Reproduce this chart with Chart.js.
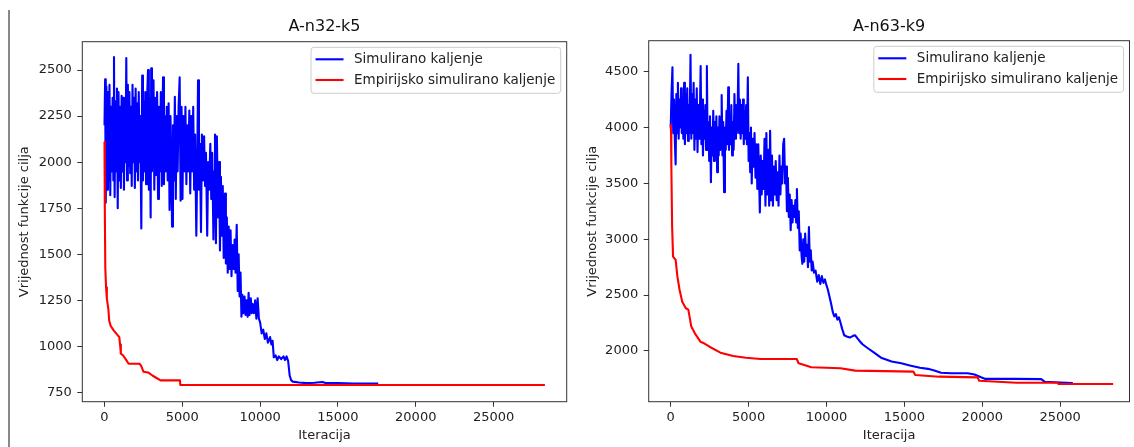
<!DOCTYPE html>
<html>
<head>
<meta charset="utf-8">
<script src="https://cdn.jsdelivr.net/npm/chart.js@4.4.1/dist/chart.umd.min.js"></script>
<style>
  html, body { margin: 0; padding: 0; background: #fff; }
  #page { position: relative; width: 1134px; height: 447px; overflow: hidden; }
  #n32 { position: absolute; left: 0; top: 0; }
  #n63 { position: absolute; left: 568px; top: 0; }
  #edge { position: absolute; left: 8px; top: 10px; width: 1.5px; height: 437px; background: #888; }
</style>
</head>
<body>
<div id="page">
  <canvas id="n32" width="568" height="447"></canvas>
  <canvas id="n63" width="566" height="447"></canvas>
  <div id="edge"></div>
</div>
<script>
const seriesLabels = ["Simulirano kaljenje", "Empirijsko simulirano kaljenje"];
const xTickValues = [0, 5000, 10000, 15000, 20000, 25000];
const n32YTicks = [750, 1000, 1250, 1500, 1750, 2000, 2250, 2500];
const n63YTicks = [2000, 2500, 3000, 3500, 4000, 4500];

// A-n32-k5, simulirano kaljenje
const n32SaIter = [
  0, 40, 80, 120, 170, 220, 270, 320, 370, 420,
  470, 520, 570, 610, 650, 700, 750, 800, 850, 900,
  950, 1000, 1050, 1100, 1150, 1200, 1250, 1300, 1350, 1400,
  1450, 1500, 1550, 1600, 1650, 1700, 1750, 1800, 1850, 1900,
  1950, 2000, 2050, 2100, 2150, 2200, 2250, 2300, 2365, 2420,
  2470, 2520, 2570, 2620, 2670, 2720, 2795, 2850, 2900, 2965,
  3000, 3050, 3100, 3150, 3200, 3260, 3320, 3380, 3440, 3500,
  3560, 3620, 3680, 3760, 3820, 3880, 3940, 4000, 4060, 4120,
  4180, 4240, 4300, 4340, 4400, 4460, 4520, 4580, 4640, 4700,
  4760, 4830, 4890, 4950, 5010, 5070, 5130, 5200, 5260, 5320,
  5380, 5450, 5510, 5570, 5630, 5700, 5760, 5820, 5900, 5960,
  6010, 6070, 6130, 6200, 6260, 6320, 6400, 6460, 6520, 6600,
  6660, 6720, 6800, 6860, 6920, 7000, 7060, 7100, 7160, 7220,
  7300, 7360, 7420, 7480, 7540, 7600, 7660, 7745, 7800, 7860,
  7920, 7980, 8040, 8100, 8160, 8220, 8300, 8360, 8420, 8495,
  8560, 8620, 8680, 8740, 8800, 8860, 8920, 9000, 9060, 9120,
  9200, 9260, 9320, 9400, 9460, 9520, 9600, 9680, 9760, 9840,
  9920, 10000, 10100, 10200, 10300, 10400, 10500, 10640, 10720, 10800,
  10880, 11000, 11100, 11200, 11350, 11500, 11600, 11700, 11800, 11900,
  12000, 12100, 12500, 13000, 13500, 14000, 14200, 15000, 16000, 17590
];
const n32SaCost = [
  2200, 2450, 1780, 2410, 1850, 2380, 1900, 2420, 1820, 2300,
  1950, 2350, 1900, 2570, 1810, 2330, 1950, 2400, 1750, 2380,
  1900, 2300, 1860, 2360, 1950, 2350, 1850, 2300, 2000, 2565,
  1900, 2420, 1980, 2380, 1940, 2300, 1870, 2420, 2000, 2350,
  1860, 2400, 1950, 2320, 1900, 2380, 2000, 2250, 1640, 2470,
  1900, 2330, 1950, 2380, 1880, 2300, 2500, 1850, 2350, 1700,
  2510, 1950, 2300, 2445, 1850, 2350, 1930, 2380, 1800, 2300,
  1950, 2380, 1870, 2460, 1880, 2250, 1950, 2300, 1900, 2320,
  1740, 2250, 1950, 1650, 2200, 1900, 2355, 1800, 2250, 1950,
  2300, 2460, 1790, 2300, 1800, 2250, 1950, 2300, 1880, 2200,
  1950, 2280, 1830, 2250, 1950, 2300, 1850, 2150, 1600, 2000,
  2445, 1850, 2100, 1620, 2150, 1900, 2140, 1870, 2050, 1600,
  2000, 1850, 2100, 1800, 2050, 1580, 1950, 2150, 1560, 2140,
  1700, 2000, 1520, 1920, 1600, 1870, 1480, 1830, 1450, 1700,
  1400, 1650, 1420, 1630, 1380, 1550, 1420, 1580, 1400, 1660,
  1300, 1500, 1270, 1400, 1160, 1280, 1180, 1270, 1170, 1250,
  1160, 1290, 1170, 1260, 1180, 1230, 1180, 1250, 1150, 1260,
  1150, 1130, 1070, 1090, 1040, 1070, 1020, 1050, 1010, 1030,
  940, 950, 925, 945, 930, 945, 925, 945, 920, 840,
  815, 808, 803, 800, 802, 806, 800, 800, 798, 797
];

// A-n32-k5, empirijsko simulirano kaljenje
const n32EsaIter = [0, 20, 50, 100, 150, 250, 300, 400, 600, 800, 950, 1000, 1050,
  1200, 1400, 1550, 2250, 2350, 2500, 2800, 3100, 3400, 3600, 4850, 4870, 28300];
const n32EsaCost = [2110, 1750, 1430, 1320, 1260, 1200, 1140, 1110, 1085, 1065, 1050, 1010, 960,
  950, 925, 905, 905, 895, 862, 858, 840, 825, 815, 815, 790, 790];

// A-n63-k9, simulirano kaljenje
const n63SaIter = [
  0, 50, 110, 160, 210, 260, 315, 360, 410, 460,
  510, 560, 610, 660, 710, 760, 810, 860, 910, 960,
  1010, 1060, 1110, 1160, 1210, 1270, 1320, 1370, 1420, 1470,
  1520, 1570, 1620, 1670, 1720, 1770, 1820, 1870, 1920, 1970,
  2020, 2070, 2120, 2170, 2220, 2270, 2320, 2370, 2420, 2470,
  2520, 2580, 2630, 2680, 2730, 2780, 2830, 2880, 2930, 2980,
  3030, 3080, 3130, 3180, 3230, 3270, 3320, 3370, 3425, 3480,
  3530, 3580, 3630, 3690, 3740, 3790, 3840, 3890, 3940, 3990,
  4040, 4090, 4140, 4190, 4240, 4290, 4340, 4390, 4440, 4490,
  4540, 4590, 4640, 4690, 4740, 4790, 4840, 4890, 4950, 5000,
  5050, 5100, 5150, 5200, 5260, 5320, 5380, 5440, 5500, 5560,
  5620, 5680, 5720, 5780, 5840, 5900, 5960, 6020, 6080, 6140,
  6200, 6260, 6320, 6380, 6440, 6500, 6560, 6620, 6680, 6740,
  6800, 6860, 6920, 6980, 7040, 7100, 7160, 7220, 7280, 7340,
  7400, 7460, 7520, 7580, 7640, 7700, 7760, 7820, 7880, 7940,
  8000, 8050, 8100, 8160, 8220, 8280, 8340, 8400, 8450, 8510,
  8570, 8630, 8690, 8750, 8810, 8870, 8930, 8990, 9050, 9110,
  9200, 9300, 9400, 9500, 9600, 9700, 9800, 9900, 9970, 10085,
  10200, 10300, 10400, 10500, 10600, 10700, 10800, 10905, 11000, 11140,
  11300, 11500, 11700, 11840, 12000, 12150, 12310, 12500, 12700, 13010,
  13500, 14180, 14800, 15350, 16000, 16510, 16920, 17350, 18000, 19060,
  19500, 19920, 20200, 22000, 23780, 24000, 25000, 25810
];
const n63SaCost = [
  4000, 4300, 4540, 3950, 4250, 3900, 3670, 4300, 3950, 4400,
  3900, 4250, 4000, 4350, 3950, 4200, 3900, 4400, 3850, 4300,
  3950, 4350, 3880, 4200, 3950, 4650, 3900, 4300, 3950, 4400,
  3800, 4250, 3900, 4350, 3780, 4200, 3900, 4100, 4550, 3850,
  4250, 3750, 4150, 3900, 4200, 3800, 4550, 3800, 4050, 3700,
  4100, 3510, 4000, 3750, 4150, 3700, 4050, 3800, 4100, 3600,
  4000, 3750, 4100, 3800, 3950, 4290, 3750, 4050, 3420, 4000,
  3800, 4150, 3850, 4360, 3800, 4100, 3850, 4200, 3750, 4050,
  3800, 4300, 3900, 4200, 3950, 4100, 4570, 3950, 4250, 3900,
  4200, 3950, 4250, 3850, 4150, 3900, 4200, 3850, 4450, 3700,
  3950, 3600, 4000, 3500, 3900, 3650, 3950, 3550, 3850, 3450,
  3850, 3500, 3240, 3750, 3400, 3700, 3450, 3900, 3300, 3950,
  3400, 3800, 3300, 3970, 3350, 3750, 3300, 3650, 3400, 3700,
  3350, 3600, 3300, 3750, 3400, 3650, 3500, 3850, 3900, 3500,
  3650, 3250, 3550, 3200, 3400, 3080, 3350, 3150, 3300, 3200,
  3350, 3150, 3450, 3100, 3250, 2900, 3050, 2850, 2780, 3000,
  2800, 3050, 2850, 2950, 2750, 3110, 2800, 2900, 2720, 2800,
  2700, 2720, 2620, 2680, 2600, 2670, 2610, 2640, 2600, 2550,
  2480, 2420, 2350, 2310, 2330, 2280, 2300, 2250, 2200, 2140,
  2130, 2120, 2135, 2140, 2110, 2085, 2060, 2040, 2020, 1990,
  1940, 1905, 1890, 1870, 1850, 1840, 1825, 1805, 1800, 1800,
  1790, 1765, 1750, 1750, 1748, 1725, 1718, 1712
];

// A-n63-k9, empirijsko simulirano kaljenje
const n63EsaIter = [0, 20, 40, 90, 150, 315, 430, 570, 740, 970, 1130, 1320, 1550, 1905,
  2140, 2490, 3190, 4010, 4830, 5760, 8090, 8210, 9030, 10900, 11840, 15580, 15700,
  17220, 19700, 19800, 21000, 22200, 24850, 24890, 28400];
const n63EsaCost = [4030, 3950, 3650, 3113, 2844, 2815, 2665, 2546, 2441, 2382, 2370, 2218, 2158, 2083,
  2069, 2038, 1985, 1955, 1940, 1928, 1928, 1890, 1854, 1845, 1824, 1815, 1785,
  1770, 1764, 1734, 1725, 1716, 1716, 1705, 1705];

Chart.defaults.font.family = '"DejaVu Sans", sans-serif';
Chart.defaults.font.size = 13;
Chart.defaults.color = "#222";

// okvir oko podrucja grafa (kao matplotlib spines)
const frame = {
  id: "frame",
  afterDatasetsDraw(chart) {
    const { ctx, chartArea: a } = chart;
    ctx.save();
    ctx.strokeStyle = "#333";
    ctx.lineWidth = 1;
    ctx.strokeRect(a.left, a.top, a.right - a.left, a.bottom - a.top);
    ctx.restore();
  },
};

// legenda u gornjem desnom kutu
const boxLegend = {
  id: "boxLegend",
  afterDraw(chart) {
    const { ctx, chartArea: a } = chart;
    const sets = chart.data.datasets;
    ctx.save();
    ctx.font = '13.5px "DejaVu Sans", sans-serif';
    const textW = Math.max(...sets.map((d) => ctx.measureText(d.label).width));
    const w = 43 + textW + 5.5;
    const h = 46;
    const x = a.right - 6 - w;
    const y = a.top + 5.6;
    ctx.beginPath();
    ctx.roundRect(x, y, w, h, 3);
    ctx.fillStyle = "rgba(255,255,255,0.8)";
    ctx.fill();
    ctx.strokeStyle = "#cccccc";
    ctx.lineWidth = 1;
    ctx.stroke();
    sets.forEach((d, i) => {
      const cy = y + 12 + i * 20.7;
      ctx.beginPath();
      ctx.moveTo(x + 4.5, cy);
      ctx.lineTo(x + 32.5, cy);
      ctx.strokeStyle = d.borderColor;
      ctx.lineWidth = d.borderWidth;
      ctx.stroke();
      ctx.fillStyle = "#222";
      ctx.textBaseline = "middle";
      ctx.fillText(d.label, x + 43, cy);
    });
    ctx.restore();
  },
};

function toPoints(iter, cost) {
  return iter.map((x, i) => ({ x: x, y: cost[i] }));
}

function lineSet(label, color, points, order) {
  return {
    label: label,
    data: points,
    borderColor: color,
    borderWidth: 2.1,
    borderJoinStyle: "round",
    pointRadius: 0,
    tension: 0,
    order: order,
  };
}

function makeChart(canvasId, cfg) {
  return new Chart(document.getElementById(canvasId), {
    type: "line",
    data: {
      datasets: [
        lineSet(seriesLabels[0], "#0000ff", toPoints(cfg.saIter, cfg.saCost), 1),
        lineSet(seriesLabels[1], "#ff0000", toPoints(cfg.esaIter, cfg.esaCost), 0),
      ],
    },
    options: {
      responsive: false,
      animation: false,
      events: [],
      layout: { padding: { left: 0, right: cfg.padRight, top: 0, bottom: 0 } },
      scales: {
        x: {
          type: "linear",
          min: cfg.xMin,
          max: cfg.xMax,
          afterBuildTicks: (s) => { s.ticks = xTickValues.map((v) => ({ value: v })); },
          afterFit: (s) => { s.height = 45.3; },
          grid: { drawOnChartArea: false, tickLength: 5, tickColor: "#333" },
          border: { display: false },
          ticks: { padding: 3, maxRotation: 0, autoSkip: false, callback: (v) => String(v) },
          title: { display: true, text: "Iteracija", padding: { top: 0, bottom: 4 } },
        },
        y: {
          type: "linear",
          min: cfg.yMin,
          max: cfg.yMax,
          afterBuildTicks: (s) => { s.ticks = cfg.yTicks.map((v) => ({ value: v })); },
          afterFit: (s) => { s.width = cfg.yWidth; },
          grid: { drawOnChartArea: false, tickLength: 5, tickColor: "#333" },
          border: { display: false },
          ticks: { padding: 5.5, autoSkip: false, callback: (v) => String(v) },
          title: { display: true, text: "Vrijednost funkcije cilja", padding: { top: 17, bottom: 0 } },
        },
      },
      plugins: {
        legend: { display: false },
        tooltip: { enabled: false },
        title: {
          display: true,
          text: cfg.title,
          fullSize: false,
          color: "#111",
          font: { size: 16, weight: "normal" },
          padding: { top: 17, bottom: cfg.titleBottom },
        },
      },
    },
    plugins: [frame, boxLegend],
  });
}

makeChart("n32", {
  title: "A-n32-k5",
  saIter: n32SaIter, saCost: n32SaCost,
  esaIter: n32EsaIter, esaCost: n32EsaCost,
  xMin: -1427, xMax: 29700,
  yMin: 699, yMax: 2654, yTicks: n32YTicks,
  yWidth: 82.3, padRight: 1.3, titleBottom: 5.5,
});

makeChart("n63", {
  title: "A-n63-k9",
  saIter: n63SaIter, saCost: n63SaCost,
  esaIter: n63EsaIter, esaCost: n63EsaCost,
  xMin: -1414, xMax: 29450,
  yMin: 1546, yMax: 4777, yTicks: n63YTicks,
  yWidth: 80.7, padRight: 4.5, titleBottom: 4.5,
});
</script>
</body>
</html>
